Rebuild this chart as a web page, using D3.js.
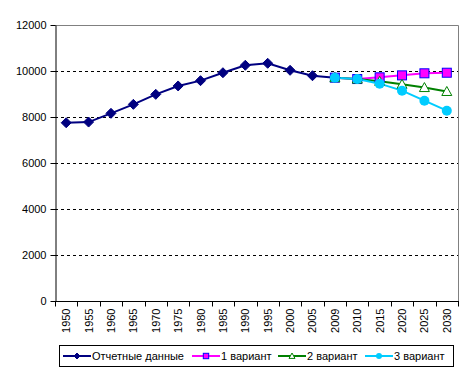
<!DOCTYPE html>
<html>
<head>
<meta charset="utf-8">
<script src="https://cdn.jsdelivr.net/npm/d3@7"></script>
<style>
  body { margin: 0; background: #fff; }
  svg { font-family: "Liberation Sans", Arial, sans-serif; }
</style>
</head>
<body>
<svg id="chart" width="473" height="375"></svg>
<script>
var years = ["1950","1955","1960","1965","1970","1975","1980","1985","1990","1995","2000","2005","2009","2010","2015","2020","2025","2030"];
var yTicks = [0, 2000, 4000, 6000, 8000, 10000, 12000];

// Отчетные данные 1950-2009
var actual = [7750, 7780, 8160, 8550, 8985, 9350, 9580, 9925, 10250, 10335, 10030, 9795, 9710];
// варианты 2009-2030
var var1 = [9710, 9650, 9725, 9810, 9900, 9925];
var var2 = [9710, 9650, 9550, 9420, 9280, 9110];
var var3 = [9710, 9650, 9450, 9145, 8710, 8275];

var svg = d3.select("#chart");
var plotL = 55, plotR = 458, plotT = 25, plotB = 301;

var x = d3.scaleBand().domain(years).range([plotL, plotR]);
var y = d3.scaleLinear().domain([0, 12000]).range([plotB, plotT]);
var cx = function(yr) { return x(yr) + x.bandwidth() / 2; };

// grid lines
svg.append("g").selectAll("line")
  .data(yTicks.filter(function(d) { return d > 0 && d < 12000; }))
  .enter().append("line")
  .attr("x1", plotL).attr("x2", plotR)
  .attr("y1", function(d) { return Math.round(y(d)) + 0.5; })
  .attr("y2", function(d) { return Math.round(y(d)) + 0.5; })
  .attr("stroke", "#000").attr("stroke-dasharray", "3,3");

// plot border (top/right grey)
svg.append("path")
  .attr("d", "M" + plotL + "," + (plotT + 0.5) + "H" + (plotR + 0.5) + "V" + plotB)
  .attr("fill", "none").attr("stroke", "#808080");

// y axis
var yAxis = svg.append("g")
  .attr("transform", "translate(" + (plotL + 0.5) + ",0)")
  .call(d3.axisLeft(y).tickValues(yTicks).tickSize(5).tickSizeOuter(0).tickFormat(d3.format("d")));
yAxis.selectAll("text").attr("font-size", 11).attr("fill", "#000").attr("dx", "-1")
  .attr("font-family", "Liberation Sans, Arial, sans-serif");
yAxis.selectAll("line, path").attr("stroke", "#000");

// x axis with ticks between categories
var xg = svg.append("g").attr("transform", "translate(0," + (plotB + 0.5) + ")");
xg.append("line").attr("x1", plotL).attr("x2", plotR + 1).attr("stroke", "#000");
xg.selectAll(".tk").data(years.concat(["end"])).enter().append("line")
  .attr("x1", function(d, i) { return Math.round(plotL + i * x.bandwidth()) + 0.5; })
  .attr("x2", function(d, i) { return Math.round(plotL + i * x.bandwidth()) + 0.5; })
  .attr("y1", 0).attr("y2", 5).attr("stroke", "#000");
xg.selectAll("text").data(years).enter().append("text")
  .attr("transform", function(d) { return "translate(" + (cx(d) + 4) + ",7) rotate(-90)"; })
  .attr("text-anchor", "end").attr("font-size", 11).text(function(d) { return d; });

var line = d3.line().x(function(d) { return cx(d.yr); }).y(function(d) { return y(d.v); });
function pts(vals, yrs) { return vals.map(function(v, i) { return { yr: yrs[i], v: v }; }); }

var histYears = years.slice(0, actual.length);
var fcYears = years.slice(12);

var series = [
  { name: "Отчетные данные", data: pts(actual, histYears), color: "#000080", marker: "diamond" },
  { name: "1 вариант", data: pts(var1, fcYears), color: "#FF00FF", marker: "square" },
  { name: "2 вариант", data: pts(var2, fcYears), color: "#008000", marker: "triangle" },
  { name: "3 вариант", data: pts(var3, fcYears), color: "#00CCFF", marker: "circle" }
];

function drawMarker(g, type, color, px, py, s) {
  if (type === "diamond") {
    g.append("path").attr("d", "M" + px + "," + (py - 5 * s) + "L" + (px + 5 * s) + "," + py + "L" + px + "," + (py + 5 * s) + "L" + (px - 5 * s) + "," + py + "Z")
      .attr("fill", color).attr("stroke", color);
  } else if (type === "square") {
    g.append("rect").attr("x", px - 4.5 * s).attr("y", py - 4.5 * s).attr("width", 9 * s).attr("height", 9 * s)
      .attr("fill", "#FF00FF").attr("stroke", "#0000FF").attr("stroke-width", 1);
  } else if (type === "triangle") {
    g.append("path").attr("d", "M" + px + "," + (py - 5 * s) + "L" + (px + 5 * s) + "," + (py + 4 * s) + "L" + (px - 5 * s) + "," + (py + 4 * s) + "Z")
      .attr("fill", "#fff").attr("stroke", color).attr("stroke-width", 1);
  } else {
    g.append("circle").attr("cx", px).attr("cy", py).attr("r", 5 * s).attr("fill", color);
  }
}

series.forEach(function(s) {
  svg.append("path").datum(s.data).attr("d", line)
    .attr("fill", "none").attr("stroke", s.color).attr("stroke-width", 2);
});
series.forEach(function(s) {
  var g = svg.append("g");
  s.data.forEach(function(d) { drawMarker(g, s.marker, s.color, cx(d.yr), y(d.v), 1); });
});

// legend
var lg = svg.append("g");
lg.append("rect").attr("x", 59.5).attr("y", 345.5).attr("width", 394).attr("height", 21)
  .attr("fill", "#fff").attr("stroke", "#000");
var legX = [63, 192, 278, 365];
series.forEach(function(s, i) {
  var x0 = legX[i], ly = 356;
  lg.append("line").attr("x1", x0).attr("x2", x0 + 28).attr("y1", ly).attr("y2", ly)
    .attr("stroke", s.color).attr("stroke-width", 2);
  drawMarker(lg, s.marker, s.color, x0 + 14, ly, 0.6);
  lg.append("text").attr("x", x0 + 29).attr("y", ly + 4).attr("font-size", 11).text(s.name);
});
</script>
</body>
</html>
